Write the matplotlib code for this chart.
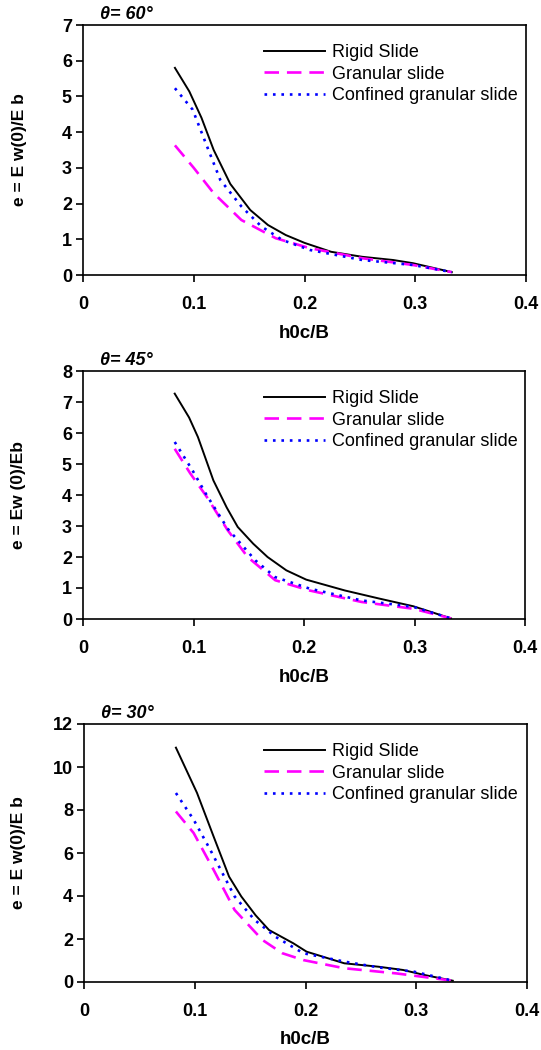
import numpy as np
import matplotlib
matplotlib.use("Agg")
import matplotlib.pyplot as plt

plt.rcParams['font.family'] = ['Liberation Sans', 'DejaVu Sans']

###############################################################################
# Data (x = h0c/B, y = e = Ew(0)/Eb)
###############################################################################
angles = ['60', '45', '30']
ylabels = ['e = E w(0)/E b', 'e = Ew (0)/Eb', 'e = E w(0)/E b']
ymaxes = [7, 8, 12]
ysteps = [1, 1, 2]
seriesNames = ['Rigid Slide', 'Granular slide', 'Confined granular slide']

# theta = 60
rigid60_x = [0.083, 0.096, 0.107, 0.118, 0.133, 0.151, 0.167, 0.183, 0.200, 0.224, 0.252, 0.280, 0.298, 0.333]
rigid60_y = [5.80, 5.14, 4.40, 3.50, 2.55, 1.82, 1.40, 1.12, 0.90, 0.65, 0.51, 0.42, 0.33, 0.08]
gran60_x = [0.083, 0.100, 0.118, 0.143, 0.174, 0.205, 0.252, 0.298, 0.333]
gran60_y = [3.63, 3.00, 2.29, 1.54, 1.03, 0.75, 0.47, 0.28, 0.08]
conf60_x = [0.083, 0.099, 0.112, 0.124, 0.143, 0.161, 0.180, 0.205, 0.252, 0.298, 0.333]
conf60_y = [5.23, 4.63, 3.60, 2.66, 1.92, 1.36, 0.98, 0.70, 0.42, 0.28, 0.08]

# theta = 45
rigid45_x = [0.083, 0.096, 0.104, 0.118, 0.130, 0.140, 0.154, 0.167, 0.184, 0.202, 0.237, 0.268, 0.299, 0.333]
rigid45_y = [7.27, 6.50, 5.87, 4.47, 3.60, 2.97, 2.43, 2.00, 1.57, 1.27, 0.92, 0.66, 0.41, 0.02]
gran45_x = [0.083, 0.097, 0.112, 0.131, 0.149, 0.174, 0.205, 0.252, 0.299, 0.333]
gran45_y = [5.49, 4.70, 3.94, 2.86, 2.00, 1.25, 0.92, 0.55, 0.33, 0.02]
conf45_x = [0.083, 0.099, 0.112, 0.131, 0.156, 0.174, 0.205, 0.252, 0.299, 0.333]
conf45_y = [5.71, 4.80, 3.99, 2.91, 1.89, 1.35, 0.98, 0.60, 0.39, 0.02]

# theta = 30
rigid30_x = [0.083, 0.102, 0.117, 0.131, 0.142, 0.155, 0.167, 0.189, 0.201, 0.235, 0.266, 0.288, 0.307, 0.333]
rigid30_y = [10.90, 8.80, 6.77, 4.90, 3.98, 3.10, 2.42, 1.80, 1.41, 0.87, 0.71, 0.56, 0.33, 0.06]
gran30_x = [0.083, 0.099, 0.117, 0.136, 0.161, 0.179, 0.198, 0.235, 0.282, 0.333]
gran30_y = [7.93, 6.93, 5.22, 3.35, 1.96, 1.34, 1.02, 0.64, 0.40, 0.06]
conf30_x = [0.083, 0.099, 0.114, 0.136, 0.154, 0.173, 0.198, 0.235, 0.266, 0.298, 0.333]
conf30_y = [8.79, 7.55, 6.15, 3.98, 2.89, 2.10, 1.34, 0.95, 0.68, 0.48, 0.06]

panels = [
    [(rigid60_x, rigid60_y), (gran60_x, gran60_y), (conf60_x, conf60_y)],
    [(rigid45_x, rigid45_y), (gran45_x, gran45_y), (conf45_x, conf45_y)],
    [(rigid30_x, rigid30_y), (gran30_x, gran30_y), (conf30_x, conf30_y)],
]

###############################################################################
# Layout (pixel boxes from the reference: left, top, right, bottom)
###############################################################################
W, H = 541, 1050
boxes = [(83, 25, 526, 275), (83, 371, 525, 619), (84, 724, 527, 982)]

styles = [dict(color='black', linestyle='-', linewidth=1.4),
          dict(color='#FF00FF', linestyle=(0, (5.5, 3)), linewidth=1.9),
          dict(color='#0000FF', linestyle=(0, (1, 2.2)), linewidth=1.9)]

fig = plt.figure(figsize=(W / 100, H / 100), dpi=100)

for i, box in enumerate(boxes):
    l, t, r, b = box
    ax = fig.add_axes([l / W, 1 - b / H, (r - l) / W, (b - t) / H])
    for j, (xs, ys) in enumerate(panels[i]):
        ax.plot(xs, ys, label=seriesNames[j], **styles[j])
    ax.set_xlim(0, 0.4)
    ax.set_ylim(0, ymaxes[i])
    ax.set_xticks([0, 0.1, 0.2, 0.3, 0.4])
    ax.set_xticklabels(['0', '0.1', '0.2', '0.3', '0.4'])
    ax.set_yticks(np.arange(0, ymaxes[i] + 1, ysteps[i]))
    for sp in ax.spines.values():
        sp.set_linewidth(1.2)
    ax.tick_params(axis='x', direction='out', length=5, width=1.2, pad=10,
                   labelsize=13)
    ax.tick_params(axis='y', direction='out', length=5, width=1.2, pad=3,
                   labelsize=13)
    for lab in ax.get_xticklabels() + ax.get_yticklabels():
        lab.set_fontweight('bold')

    hpx = b - t
    wpx = r - l
    ax.set_xlabel('h0c/B', fontsize=13.5, fontweight='bold')
    ax.xaxis.label.set_va('center')
    ax.xaxis.set_label_coords(0.5, -58 / hpx)
    ax.set_ylabel(ylabels[i], fontsize=12.5, fontweight='bold')
    ax.yaxis.label.set_va('center')
    ax.yaxis.set_label_coords(-(l - 19) / wpx, 0.5)

    ax.text(17 / wpx, 1 + 2 / hpx, '\u03b8= ' + angles[i] + '\u00b0',
            transform=ax.transAxes, ha='left', va='bottom',
            fontsize=13, fontweight='bold', fontstyle='italic')

    ax.legend(loc='upper left', bbox_to_anchor=((264 - l) / wpx, 1 - 19 / hpx),
              frameon=False, fontsize=13, borderpad=0, borderaxespad=0,
              handlelength=3.4, handletextpad=0.35, labelspacing=0.25)

fig.savefig('out.png', dpi=100)
